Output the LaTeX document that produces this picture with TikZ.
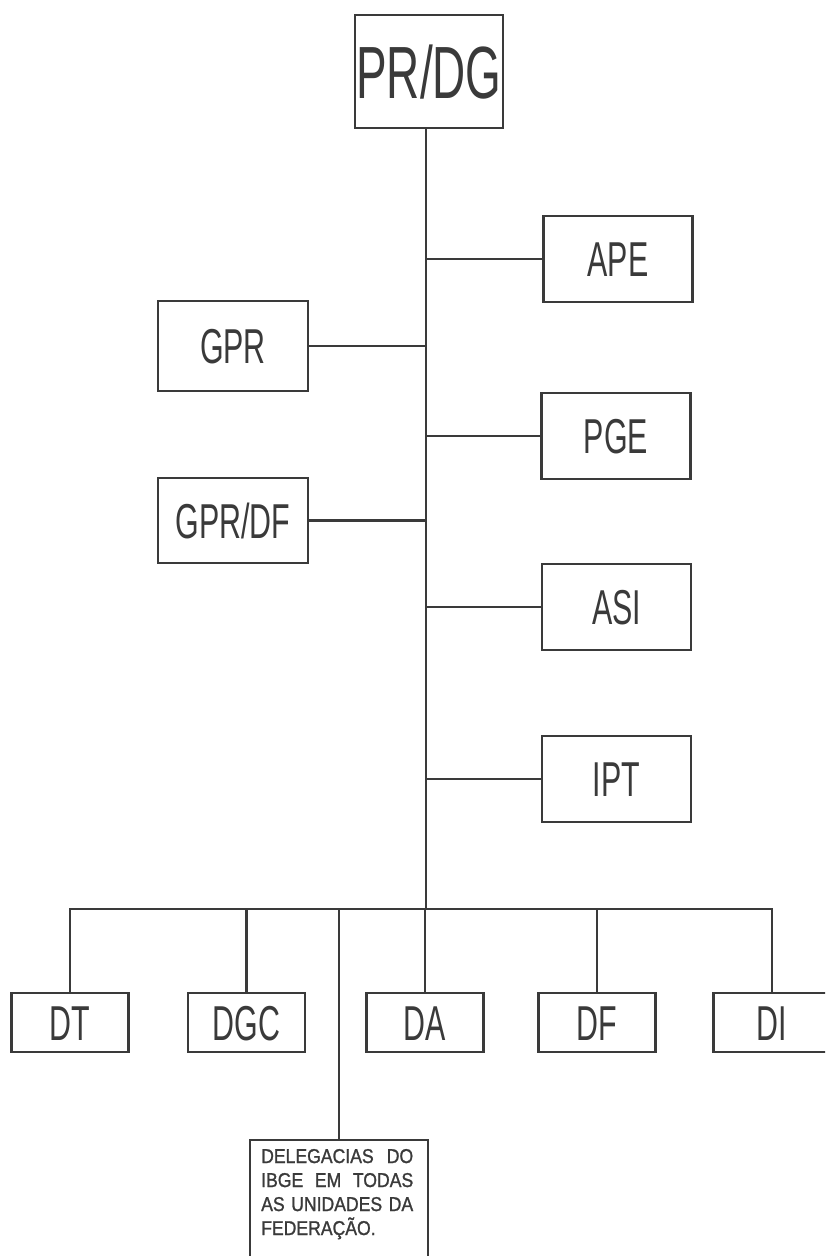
\documentclass[tikz,border=0pt]{standalone}
\usepackage{fontspec}
\setmainfont{Liberation Sans}
\newfontfamily\condfont[FakeStretch=0.62]{Liberation Sans}
\newfontfamily\delfont[FakeStretch=0.88,FakeBold=1.2]{Liberation Sans}
\definecolor{ink}{HTML}{3A3A3A}
\tikzset{
  box/.style={draw=ink, line width=2.7pt, text=ink, inner sep=0pt,
    font=\condfont\fontsize{49}{50}\selectfont, text height=35pt, text depth=0pt},
  upbox/.style={box, minimum width=149pt, minimum height=86pt},
  lowbox/.style={box, minimum width=117pt, minimum height=59pt},
  conn/.style={draw=ink, line width=2.7pt},
  delline/.style={anchor=base west, inner sep=0pt, text=ink,
    font=\delfont\fontsize{20}{24}\selectfont}
}
\begin{document}
\begin{tikzpicture}[x=1pt,y=-1pt]
\useasboundingbox (0,0) rectangle (825,1256);
\clip (0,0) rectangle (825,1256);
\fill[white] (0,0) rectangle (825,1256);
% top
\node[box, minimum width=148pt, minimum height=113pt,
  font=\condfont\fontsize{74}{76}\selectfont, text height=53pt] (PRDG) at (429,71.5) {PR/DG};
% staff units
\node[upbox] (APE) at (618,259) {APE};
\node[upbox, minimum width=150pt, minimum height=90pt] (GPR) at (233,346) {GPR};
\node[upbox] (PGE) at (616,436) {PGE};
\node[upbox, minimum width=150pt, minimum height=85pt] (GPRDF) at (233,520.5) {GPR/DF};
\node[upbox] (ASI) at (616.5,607) {ASI};
\node[upbox] (IPT) at (616.5,779) {IPT};
% directorates
\node[lowbox] (DT) at (70,1022.5) {DT};
\node[lowbox] (DGC) at (246.5,1022.5) {DGC};
\node[lowbox] (DA) at (425,1022.5) {DA};
\node[lowbox] (DF) at (597,1022.5) {DF};
\node[lowbox] (DI) at (772,1022.5) {DI};
% delegations
\node[draw=ink, line width=2.7pt, minimum width=178pt, minimum height=140pt, inner sep=0pt] (DEL) at (339,1210) {};
\node[delline] (DEL1) at (261,1163) {\makebox[152pt][s]{DELEGACIAS\ \ DO}};
\node[delline] (DEL2) at (261,1187) {\makebox[152pt][s]{IBGE EM TODAS}};
\node[delline] (DEL3) at (261,1211) {\makebox[152pt][s]{AS UNIDADES DA}};
\node[delline] (DEL4) at (261,1235) {FEDERAÇÃO.};
% spine
\coordinate (bus) at (426,909);
\draw[conn] (PRDG.south -| bus) -- (bus);
\draw[conn] (APE.west) -- (APE.west -| bus);
\draw[conn] (GPR.east) -- (GPR.east -| bus);
\draw[conn] (PGE.west) -- (PGE.west -| bus);
\draw[conn] (GPRDF.east) -- (GPRDF.east -| bus);
\draw[conn] (ASI.west) -- (ASI.west -| bus);
\draw[conn] (IPT.west) -- (IPT.west -| bus);
% bus
\draw[conn] (DT.north) |- (bus) -| (DI.north);
\draw[conn] (DGC.north) -- (DGC.north |- bus);
\draw[conn] (DA.north) -- (DA.north |- bus);
\draw[conn] (DF.north) -- (DF.north |- bus);
\draw[conn] (DEL.north) -- (DEL.north |- bus);
\end{tikzpicture}
\end{document}
